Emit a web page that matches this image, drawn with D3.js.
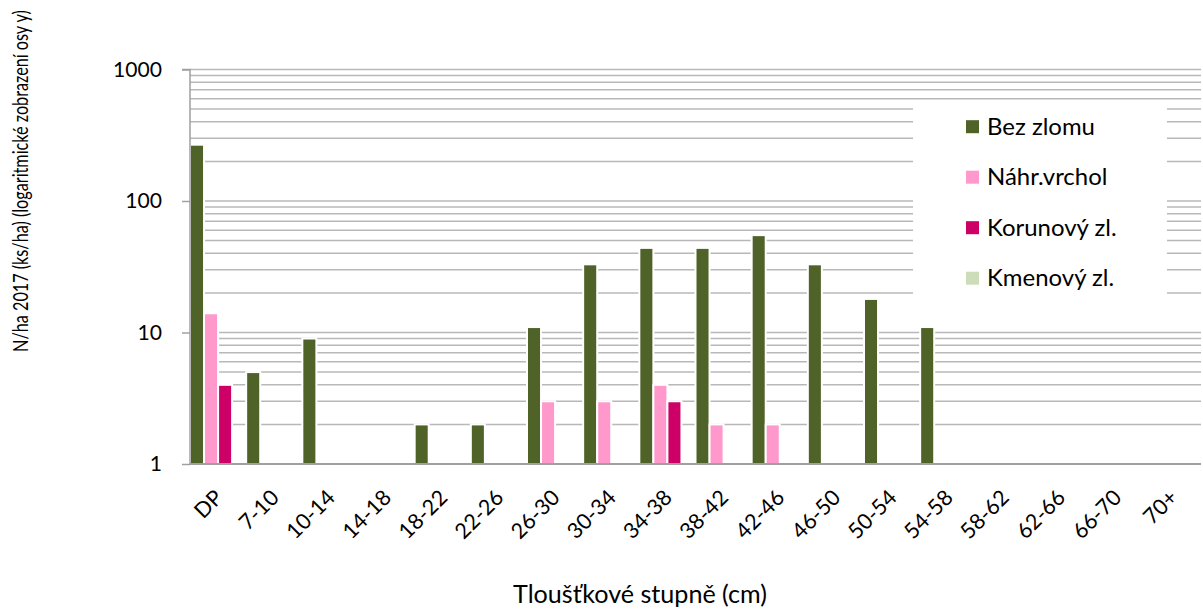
<!DOCTYPE html>
<html><head><meta charset="utf-8">
<script src="https://cdn.jsdelivr.net/npm/d3@7"></script>
<style>
html,body{margin:0;padding:0;background:#fff;}
text{font-family:Lato,"Open Sans",sans-serif;fill:#000;}
</style></head>
<body>
<svg id="c" width="1203" height="611"></svg>
<script>
const categories = ["DP","7-10","10-14","14-18","18-22","22-26","26-30","30-34","34-38","38-42","42-46","46-50","50-54","54-58","58-62","62-66","66-70","70+"];
const seriesNames = ["Bez zlomu","Náhr.vrchol","Korunový zl.","Kmenový zl."];
const bezZlomu   = [268,5,9,0,2,2,11,33,44,44,55,33,18,11,0,0,0,0];
const nahrVrchol = [14,0,0,0,0,0,3,3,4,2,2,0,0,0,0,0,0,0];
const korunovy   = [4,0,0,0,0,0,0,0,3,0,0,0,0,0,0,0,0,0];
const kmenovy    = [0,0,0,0,0,0,0,0,0,0,0,0,0,0,0,0,0,0];
const yTicks = [1,10,100,1000];
const colors = ["#4F6228","#FF99CC","#CC0066","#CDDDB9"];
const xTitle = "Tloušťkové stupně (cm)";
const yTitle = "N/ha 2017 (ks/ha) (logaritmické zobrazení osy y)";

const seriesVals = [bezZlomu, nahrVrchol, korunovy, kmenovy];
const svg = d3.select("#c");
const L = 190, R = 1201, T = 69.5, B = 464;

// size a text so that a given node spans a target width
function fitSize(node, target) {
  node.style.fontSize = "20px";
  const w = node.getComputedTextLength();
  return 20 * target / w;
}

const x = d3.scaleBand().domain(categories).range([L, R]).paddingInner(0).paddingOuter(0);
const xs = d3.scaleBand().domain(d3.range(seriesNames.length)).range([0, x.bandwidth()]).padding(0);
const y = d3.scaleLog().domain([1, 1000]).range([B, T]);

// gridlines: majors and minors
const gridVals = [];
for (let k = 0; k < 3; k++) for (let m = 1; m <= 9; m++) gridVals.push(m * Math.pow(10, k));
gridVals.push(1000);
svg.append("g").selectAll("line").data(gridVals.filter(v => v > 1)).join("line")
  .attr("x1", L).attr("x2", R)
  .attr("y1", d => y(d)).attr("y2", d => y(d))
  .attr("stroke", "#B8B8B8").attr("stroke-width", 1.5);

// bars
const bars = [];
categories.forEach((c, i) => seriesVals.forEach((s, j) => { if (s[i] > 0) bars.push({c, j, v: s[i]}); }));
svg.append("g").selectAll("rect").data(bars).join("rect")
  .attr("x", d => x(d.c) + xs(d.j))
  .attr("width", xs.bandwidth())
  .attr("y", d => y(d.v))
  .attr("height", d => y(1) - y(d.v))
  .attr("fill", d => colors[d.j])
  .attr("stroke", "#fff").attr("stroke-width", 2);

// y axis
const yAxis = d3.axisLeft(y).tickValues(yTicks).tickFormat(d3.format("d")).tickSize(8).tickPadding(20);
const gy = svg.append("g").attr("transform", `translate(${L},0)`).call(yAxis);
gy.select(".domain").attr("stroke", "#A0A0A0").attr("stroke-width", 1.5).attr("d", `M-8,${T}H0V${B}`);
gy.selectAll(".tick line").attr("stroke", "#A0A0A0").attr("stroke-width", 1.5);
const tickText = gy.selectAll(".tick text").attr("font-family", null);
const tickSize = fitSize(tickText.filter(d => d === 1000).node(), 49);
tickText.style("font-size", tickSize + "px");

// x axis
const xAxis = d3.axisBottom(x).tickSize(0).tickPadding(0);
const gx = svg.append("g").attr("transform", `translate(0,${B})`).call(xAxis);
gx.select(".domain").attr("stroke", "#A0A0A0").attr("stroke-width", 2).attr("d", `M${L},0H${R}`);
gx.selectAll(".tick text")
  .style("font-size", (tickSize + 0.5) + "px").attr("font-family", null)
  .attr("text-anchor", "end").attr("dy", null).attr("y", 0)
  .attr("transform", "translate(6,35) rotate(-45)");

// axis titles
const xt = svg.append("text").attr("x", 640).attr("y", 603).attr("text-anchor", "middle").text(xTitle);
xt.style("font-size", fitSize(xt.node(), 254) + "px");
const yt = svg.append("text").attr("text-anchor", "middle").text(yTitle).style("font-size", "22px");
const ytLen = yt.node().getComputedTextLength();
yt.attr("transform", `translate(28,181) rotate(-90) scale(${342 / ytLen},1)`);

// legend
const lg = svg.append("g");
lg.append("rect").attr("x", 913).attr("y", 100).attr("width", 254).attr("height", 200).attr("fill", "#fff");
const item = lg.selectAll("g.li").data(seriesNames).join("g").attr("class", "li")
  .attr("transform", (d, i) => `translate(966,${126.7 + i * 50.5})`);
item.append("rect").attr("x", 0).attr("y", -6.5).attr("width", 13).attr("height", 13).attr("fill", (d, i) => colors[i]);
const lt = item.append("text").attr("x", 21).attr("y", 8).text(d => d);
const legSize = fitSize(lt.filter((d, i) => i === 0).node(), 108);
lt.style("font-size", legSize + "px");
</script>
</body></html>
